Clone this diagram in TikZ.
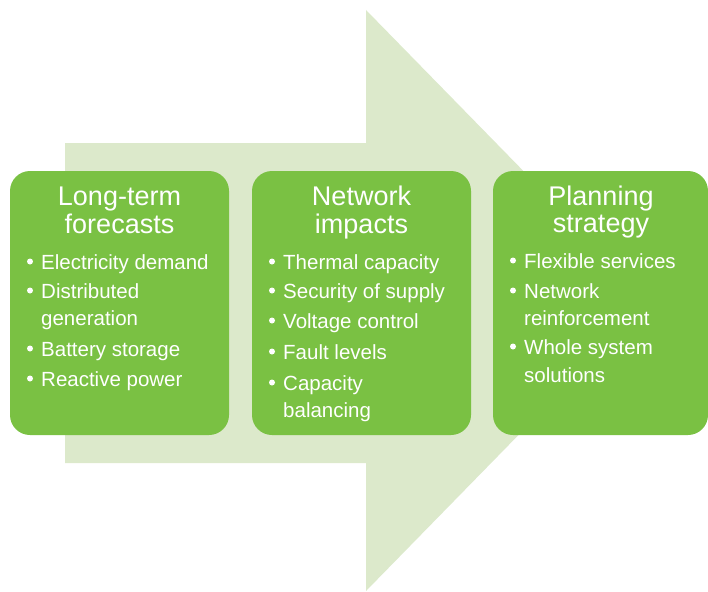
\documentclass[tikz,border=0pt]{standalone}
\usepackage{fontspec}
\setmainfont{Liberation Sans}
\definecolor{boxgreen}{HTML}{7AC143}
\definecolor{arrowgreen}{HTML}{DCE9CB}
\tikzset{
  card/.style={fill=boxgreen, rounded corners=20pt},
  ttl/.style={anchor=base, text=white, font=\fontsize{27}{29}\selectfont, inner sep=0pt},
  itm/.style={anchor=base west, text=white, font=\fontsize{20.5}{27}\selectfont, inner sep=0pt},
  dot/.style={fill=white}
}
\begin{document}
\begin{tikzpicture}[x=1pt,y=-1pt]
\useasboundingbox (0,0) rectangle (708,591);
% big arrow
\fill[arrowgreen] (65,143) -- (366,143) -- (366,10) -- (650,300.5) -- (366,591) -- (366,463) -- (65,463) -- cycle;
% cards
\fill[card] (10,171) rectangle (229,435);
\fill[card] (252,171) rectangle (471,435);
\fill[card] (493,171) rectangle (708,435);
% card 1
\node[ttl] (t1a) at (119.5,205) {Long-term};
\node[ttl] (t1b) at (119.5,233) {forecasts};
\foreach \y in {269,298,356,386} \fill[dot] (30,\y-7.5) circle (3);
\node[itm] (a1) at (41,269) {Electricity demand};
\node[itm] (a2) at (41,298) {Distributed};
\node[itm] (a2b) at (41,325) {generation};
\node[itm] (a3) at (41,356) {Battery storage};
\node[itm] (a4) at (41,386) {Reactive power};
% card 2
\node[ttl] (t2a) at (361.5,205) {Network};
\node[ttl] (t2b) at (361.5,233) {impacts};
\foreach \y in {269,298,328,359,390} \fill[dot] (272,\y-7.5) circle (3);
\node[itm] (b1) at (283,269) {Thermal capacity};
\node[itm] (b2) at (283,298) {Security of supply};
\node[itm] (b3) at (283,328) {Voltage control};
\node[itm] (b4) at (283,359) {Fault levels};
\node[itm] (b5) at (283,390) {Capacity};
\node[itm] (b5b) at (283,417) {balancing};
% card 3
\node[ttl] (t3a) at (601,205) {Planning};
\node[ttl] (t3b) at (601,232) {strategy};
\foreach \y in {268,298,354} \fill[dot] (513,\y-7.5) circle (3);
\node[itm] (c1) at (524,268) {Flexible services};
\node[itm] (c2) at (524,298) {Network};
\node[itm] (c2b) at (524,325) {reinforcement};
\node[itm] (c3) at (524,354) {Whole system};
\node[itm] (c3b) at (524,382) {solutions};
\end{tikzpicture}
\end{document}
